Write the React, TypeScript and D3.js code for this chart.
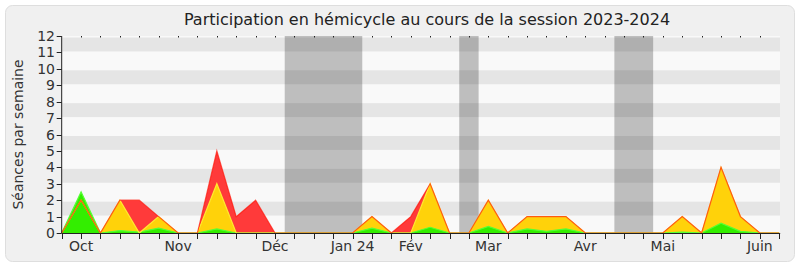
import React from "react";
import * as d3 from "d3";

const weeks = d3.range(38);
const presence = [0,2,0,2,2,1,0,0,5,1,2,0,0,0,0,0,1,0,1,3,0,0,2,0,1,1,1,0,0,0,0,0,1,0,4,1,0,0];
const participation = [0,2,0,2,0,1,0,0,3,0,0,0,0,0,0,0,1,0,0,3,0,0,2,0,1,1,1,0,0,0,0,0,1,0,4,1,0,0];
const questions = [0,2.5,0,0.15,0.05,0.3,0,0,0.25,0,0,0,0,0,0,0,0.3,0,0,0.35,0,0,0.4,0,0.25,0.1,0.25,0,0,0,0,0,0.05,0,0.6,0.1,0,0];
const vacations: [number, number][] = [[11.5, 15.5], [20.5, 21.5], [28.5, 30.5]];
const monthLabels = ["Oct", "Nov", "Déc", "Jan 24", "Fév", "Mar", "Avr", "Mai", "Juin"];
const monthWeeks = [1, 6, 11, 15, 18, 22, 27, 31, 36];
const yTicks = d3.range(13);
const title = "Participation en hémicycle au cours de la session 2023-2024";
const yTitle = "Séances par semaine";

export default function App() {
  const W = 800, H = 267;
  const x0 = 61.7, x1 = 779.2, y0 = 233, y1 = 36;
  const x = d3.scaleLinear().domain([0, 37]).range([x0, x1]);
  const y = d3.scaleLinear().domain([0, 12]).range([y0, y1]);
  const area = (vals: number[]) =>
    d3.area<number>().x((_, i) => x(i)).y0(y(0)).y1((d) => y(d)).curve(d3.curveLinear)(vals) || "";
  const line = (vals: number[]) =>
    d3.line<number>().x((_, i) => x(i)).y((d) => y(d)).curve(d3.curveLinear)(vals) || "";
  const font = "'DejaVu Sans', Verdana, sans-serif";
  return (
    <div style={{ position: "fixed", left: 0, top: 0 }}>
      <svg width={W} height={H} style={{ display: "block", background: "#fff" }}>
        <rect x={5.5} y={5.5} width={789} height={256} rx={7} fill="#f0f0f0" stroke="#dedede" />
        <text x={427} y={25} textAnchor="middle" fontFamily={font} fontSize={16} fill="#222">{title}</text>
        {/* plot background */}
        <rect x={x0} y={y1} width={780 - x0} height={y0 - y1} fill="#f9f9f9" />
        {yTicks.slice(0, 12).filter((t) => t % 2 === 1).map((t) => (
          <rect key={"s" + t} x={x0} y={y(t + 1) + 1.5} width={780 - x0} height={y(t) - y(t + 1) - 2.5} fill="#e5e5e5" />
        ))}
        {vacations.map(([a, b], i) => (
          <rect key={"v" + i} x={x(a)} y={y1} width={x(b) - x(a)} height={y0 - y1} fill="#000" fillOpacity={0.235} />
        ))}
        {/* areas */}
        <path d={area(presence)} fill="#ff3a3a" />
        <path d={area(participation)} fill="#ffd20a" />
        <path d={area(questions)} fill="#33ee00" />
        <path d={line(questions)} fill="none" stroke="#55ff33" strokeWidth={1.2} />
        <path d={line(participation)} fill="none" stroke="#ffea30" strokeWidth={1.2} />
        <path d={line(presence)} fill="none" stroke="#ff1000" strokeWidth={1.2} strokeOpacity={0.65} />
        {/* axes */}
        <line x1={x0} x2={x0} y1={y1} y2={y0} stroke="#222" />
        <line x1={x0} x2={x1 + 1} y1={y0 + 0.5} y2={y0 + 0.5} stroke="#222" />
        {yTicks.map((t) => (
          <g key={"yt" + t}>
            <line x1={x0 - 5} x2={x0} y1={Math.round(y(t)) + 0.5} y2={Math.round(y(t)) + 0.5} stroke="#222" />
            <text x={55} y={y(t) + 5} textAnchor="end" fontFamily={font} fontSize={14} fill="#333">{t}</text>
          </g>
        ))}
        {weeks.map((i) => (
          <g key={"xt" + i}>
            <line x1={Math.round(x(i)) + 0.5} x2={Math.round(x(i)) + 0.5} y1={y0} y2={y0 + 6} stroke="#222" />
            {i > 0 && i < 37 && (
              <line x1={Math.round(x(i)) + 0.5} x2={Math.round(x(i)) + 0.5} y1={y1} y2={y1 + 1.5} stroke="#222" />
            )}
          </g>
        ))}
        {monthLabels.map((m, k) => (
          <text key={"m" + k} x={x(monthWeeks[k])} y={251} textAnchor="middle" fontFamily={font} fontSize={14} fill="#333">{m}</text>
        ))}
        <text transform={`translate(23,${(y0 + y1) / 2}) rotate(-90)`} textAnchor="middle" fontFamily={font} fontSize={14} fill="#333">{yTitle}</text>
      </svg>
    </div>
  );
}
